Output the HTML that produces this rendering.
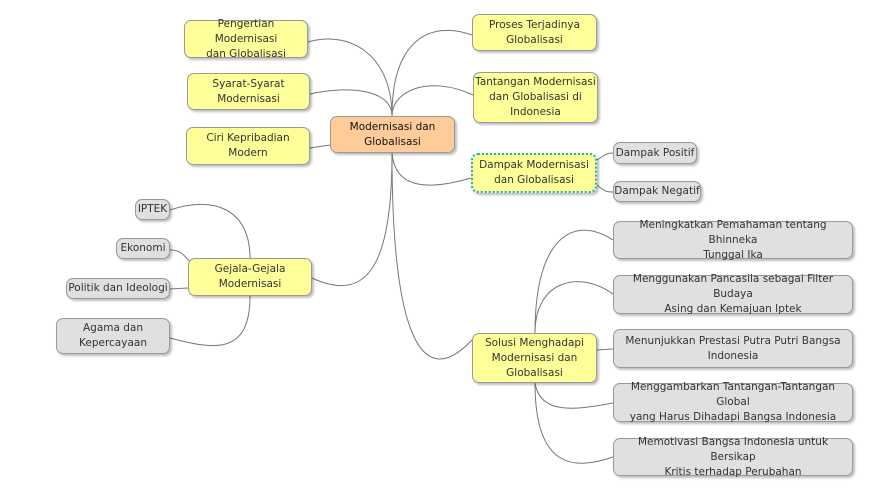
<!DOCTYPE html>
<html><head><meta charset="utf-8"><style>
body{margin:0;width:893px;height:490px;background:#fff;position:relative;overflow:hidden;font-family:"DejaVu Sans","Liberation Sans",sans-serif}
.n{position:absolute;box-sizing:border-box;border:1px solid #999;border-radius:7px;display:flex;align-items:center;justify-content:center;text-align:center;font-size:10.5px;line-height:15px;color:#333;box-shadow:2px 2px 2px rgba(0,0,0,0.25)}
.y{background:#ffff99}
.g{background:#e0e0e0}
.o{background:#ffcc99;color:#111}
svg{position:absolute;left:0;top:0}
</style></head><body>
<svg width="893" height="490" fill="none" stroke="#777" stroke-width="1">
<path d="M392,116 C392,55 350,30 308,42"/>
<path d="M392,116 C392,90 350,85 310,94"/>
<path d="M330,145 L310,148"/>
<path d="M392,116 C392,40 430,20 472,35"/>
<path d="M392,116 C392,90 430,75 473,95"/>
<path d="M392,153 C395,190 430,190 471,178"/>
<path d="M392,153 C392,260 370,305 312,278"/>
<path d="M392,153 C392,330 420,395 472,340"/>
<path d="M250,258 C250,210 215,195 170,210"/>
<path d="M190,262 C182,252 178,250 170,250"/>
<path d="M188,288 L170,289"/>
<path d="M250,296 C250,355 215,350 170,338"/>
<path d="M535,333 C535,235 575,215 613,240"/>
<path d="M535,333 C535,280 580,270 613,294"/>
<path d="M597,350 L613,349"/>
<path d="M535,383 C540,415 575,410 613,403"/>
<path d="M535,383 C535,470 575,470 613,457"/>
<path d="M597,160 C605,155 607,153 613,153"/>
<path d="M597,185 C605,192 607,192 613,192"/>
</svg>
<div class="n o" style="left:330px;top:116px;width:125px;height:37px">Modernisasi dan<br>Globalisasi</div>
<div class="n y" style="left:184px;top:20px;width:124px;height:38px">Pengertian Modernisasi<br>dan Globalisasi</div>
<div class="n y" style="left:187px;top:73px;width:123px;height:37px">Syarat-Syarat<br>Modernisasi</div>
<div class="n y" style="left:186px;top:127px;width:124px;height:38px">Ciri Kepribadian<br>Modern</div>
<div class="n y" style="left:472px;top:14px;width:125px;height:37px">Proses Terjadinya<br>Globalisasi</div>
<div class="n y" style="left:473px;top:72px;width:125px;height:51px">Tantangan Modernisasi<br>dan Globalisasi di<br>Indonesia</div>
<div class="n y" style="left:471px;top:153px;width:126px;height:40px;border:2px dotted #1ab0c8">Dampak Modernisasi<br>dan Globalisasi</div>
<div class="n g" style="left:613px;top:142px;width:84px;height:22px">Dampak Positif</div>
<div class="n g" style="left:613px;top:181px;width:88px;height:21px">Dampak Negatif</div>
<div class="n y" style="left:188px;top:258px;width:124px;height:38px">Gejala-Gejala<br>Modernisasi</div>
<div class="n g" style="left:135px;top:199px;width:35px;height:21px">IPTEK</div>
<div class="n g" style="left:116px;top:238px;width:54px;height:21px">Ekonomi</div>
<div class="n g" style="left:66px;top:278px;width:104px;height:21px">Politik dan Ideologi</div>
<div class="n g" style="left:56px;top:318px;width:114px;height:36px">Agama dan<br>Kepercayaan</div>
<div class="n y" style="left:472px;top:333px;width:125px;height:50px">Solusi Menghadapi<br>Modernisasi dan<br>Globalisasi</div>
<div class="n g" style="left:613px;top:221px;width:240px;height:38px">Meningkatkan Pemahaman tentang Bhinneka<br>Tunggal Ika</div>
<div class="n g" style="left:613px;top:275px;width:240px;height:39px">Menggunakan Pancasila sebagai Filter Budaya<br>Asing dan Kemajuan Iptek</div>
<div class="n g" style="left:613px;top:329px;width:240px;height:39px">Menunjukkan Prestasi Putra Putri Bangsa<br>Indonesia</div>
<div class="n g" style="left:613px;top:383px;width:240px;height:39px">Menggambarkan Tantangan-Tantangan Global<br>yang Harus Dihadapi Bangsa Indonesia</div>
<div class="n g" style="left:613px;top:438px;width:240px;height:38px">Memotivasi Bangsa Indonesia untuk Bersikap<br>Kritis terhadap Perubahan</div>
</body></html>
